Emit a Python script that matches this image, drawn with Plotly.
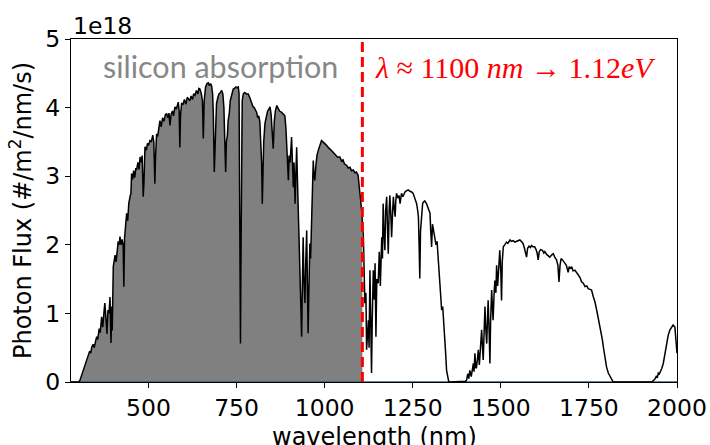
import numpy as np
import plotly.graph_objects as go

# Solar photon flux (AM1.5-like), units of 1e18 photons / m^2 / nm / s
wavelength_nm = [
    280, 300, 305, 312, 320, 329, 333, 336, 339, 343, 346, 350, 353, 356, 360, 363, 367, 370, 373, 376,
    379, 382, 385, 388, 390.7, 393.5, 396, 397, 400, 403, 405, 408, 411, 414, 417, 419, 422, 425, 428, 430,
    432, 435, 438, 441, 444, 447.5, 450, 452, 455, 458, 461, 464, 466, 470, 473, 476, 479, 482, 485, 487,
    490, 494, 497, 500, 504, 508, 512, 515, 518, 520, 523, 526, 529, 532.5, 536, 540, 544, 548, 551.5, 555,
    558, 561, 564, 568, 571, 575, 579, 584.5, 587, 589, 591, 594, 598, 602, 606, 610, 613, 617, 621, 625,
    628, 632, 636, 640, 643, 646, 650, 653, 655.5, 658, 662, 666, 669.6, 673, 676, 679, 682, 684, 686.7, 689,
    693, 697, 700, 704, 707.6, 711, 714, 716, 719, 721, 724, 726, 729, 732, 736, 740.6, 744, 748, 751, 754.8,
    757, 759, 761, 762, 763, 764, 766, 769, 773, 778, 783, 787, 790, 794, 797, 800, 804, 807, 810, 813,
    816, 819, 821, 823, 825, 827, 830.5, 834, 838, 842, 845, 848, 851, 854, 857, 860, 864, 868, 872, 878,
    882, 887, 890, 893, 895, 897, 899, 902, 906, 908, 911, 913, 916, 918, 920.5, 923, 925, 928, 930, 932,
    934.6, 936, 937, 939, 941, 944, 946, 949, 951, 953, 955, 958, 960, 963, 965, 967.6, 970, 972, 975, 978,
    982, 986, 991, 995, 1000, 1005.5, 1010, 1015, 1020, 1024, 1030, 1036, 1043, 1048, 1052, 1056, 1062, 1067, 1072, 1076,
    1081, 1086, 1090, 1095, 1098, 1100, 1103, 1105, 1108, 1110, 1114, 1117, 1119, 1122, 1124, 1126, 1128.5, 1131, 1133, 1135,
    1138, 1141, 1143, 1145.5, 1148, 1152, 1155, 1158, 1162, 1164, 1166, 1168, 1171, 1173, 1176, 1178, 1180.5, 1183, 1185, 1188,
    1190, 1193, 1195, 1198, 1200, 1202, 1204, 1208, 1211, 1214, 1218, 1222, 1228, 1233, 1237, 1242, 1247, 1251, 1256, 1261,
    1264, 1266, 1268, 1270, 1272, 1275, 1278, 1280, 1284, 1289, 1293, 1296, 1299, 1301, 1303.5, 1306, 1310, 1313, 1316, 1319,
    1322, 1325, 1327, 1330, 1332, 1335, 1338, 1341, 1343, 1346, 1349, 1352, 1355, 1395, 1400, 1403, 1406, 1409, 1412, 1416,
    1419, 1422, 1424, 1426.5, 1429, 1431, 1434, 1436, 1439, 1442, 1445.5, 1448, 1450, 1453, 1455, 1457, 1460, 1462, 1464, 1467,
    1469, 1471, 1474, 1476, 1478, 1481, 1483, 1486, 1488, 1491, 1493, 1495, 1497, 1500, 1502, 1504, 1507, 1511, 1516, 1520,
    1526, 1530, 1535, 1540, 1545, 1550, 1554, 1558, 1563, 1567, 1570, 1573, 1576, 1580, 1584, 1587, 1591, 1596, 1600, 1603,
    1606, 1609, 1613, 1618, 1622, 1625, 1630, 1635, 1639, 1644, 1649, 1653, 1656, 1658, 1662, 1665, 1668, 1671, 1675, 1679,
    1682, 1686, 1689, 1691, 1694, 1698, 1701, 1705, 1710, 1715, 1720, 1725, 1729, 1734, 1739, 1744, 1748, 1753, 1757.5, 1762,
    1767, 1772, 1776, 1781, 1784, 1786, 1788, 1791, 1795, 1800, 1805, 1809.5, 1814, 1819, 1930, 1932, 1937, 1941, 1944, 1947,
    1950, 1954, 1957, 1961, 1965, 1970, 1975, 1980, 1985, 1989, 1994, 1997, 1998.5, 2000,
]
flux_e18 = [
    0, 0, 0.02, 0.12, 0.25, 0.39, 0.45, 0.42, 0.51, 0.55, 0.50, 0.60, 0.66, 0.62, 0.78, 0.72, 0.95, 0.80, 1.05, 1.15,
    0.95, 0.70, 1.05, 1.00, 1.24, 0.57, 1.10, 0.75, 1.68, 1.82, 1.85, 1.75, 1.95, 2.05, 2.00, 2.12, 2.00, 2.08, 2.00, 1.39,
    2.10, 2.30, 2.46, 2.35, 2.60, 2.70, 2.75, 3.04, 2.95, 3.08, 2.98, 3.12, 3.09, 3.20, 3.10, 3.28, 3.20, 3.30, 2.70, 2.90,
    3.43, 3.38, 3.48, 3.45, 3.52, 3.50, 3.60, 3.50, 2.89, 3.30, 3.62, 3.58, 3.72, 3.81, 3.72, 3.85, 3.80, 3.90, 3.91, 3.85,
    3.92, 3.74, 3.90, 3.95, 3.88, 4.01, 3.98, 4.08, 3.95, 3.42, 3.90, 4.06, 4.05, 4.12, 4.05, 4.15, 4.13, 4.10, 4.17, 4.12,
    4.20, 4.18, 4.25, 4.20, 4.28, 4.27, 4.20, 4.10, 3.55, 4.10, 4.30, 4.35, 4.36, 4.32, 4.35, 4.32, 4.20, 3.90, 3.06, 3.60,
    4.06, 4.15, 4.20, 4.22, 4.25, 4.20, 4.00, 3.60, 3.06, 3.50, 3.60, 3.81, 3.90, 4.10, 4.20, 4.27, 4.28, 4.30, 4.29, 4.30,
    4.20, 3.00, 0.56, 1.50, 2.50, 3.60, 4.10, 4.20, 4.22, 4.20, 4.20, 4.15, 4.10, 4.05, 4.01, 4.00, 3.97, 3.93, 3.85, 3.88,
    3.79, 3.50, 3.20, 2.60, 3.00, 3.50, 3.77, 3.85, 3.95, 3.98, 4.01, 3.90, 3.70, 3.40, 3.80, 3.95, 4.03, 3.98, 3.95, 3.93,
    3.90, 3.88, 3.70, 3.40, 3.10, 2.94, 3.30, 3.20, 3.57, 3.10, 2.84, 3.20, 2.60, 3.00, 3.42, 2.90, 2.50, 2.10, 1.68, 1.00,
    0.66, 1.20, 1.90, 2.11, 1.50, 1.15, 1.70, 2.21, 1.40, 0.71, 1.30, 2.02, 1.80, 2.46, 2.90, 3.23, 3.00, 2.94, 3.15, 3.30,
    3.38, 3.45, 3.52, 3.50, 3.48, 3.45, 3.42, 3.40, 3.37, 3.35, 3.32, 3.28, 3.28, 3.22, 3.24, 3.18, 3.16, 3.12, 3.13, 3.08,
    3.09, 3.05, 3.06, 3.01, 2.85, 2.70, 2.60, 2.50, 2.30, 2.10, 1.15, 1.30, 0.47, 0.80, 0.90, 0.50, 1.63, 0.80, 0.13, 0.90,
    1.63, 1.20, 1.73, 0.66, 1.50, 1.44, 1.90, 1.40, 2.11, 1.80, 2.60, 2.20, 1.92, 2.50, 2.70, 2.30, 1.87, 2.50, 2.72, 2.40,
    2.11, 2.50, 2.70, 2.50, 2.41, 2.65, 2.75, 2.68, 2.72, 2.60, 2.75, 2.70, 2.77, 2.79, 2.80, 2.78, 2.77, 2.75, 2.68, 2.60,
    2.50, 2.41, 2.00, 1.51, 2.20, 2.50, 2.60, 2.62, 2.64, 2.60, 2.55, 2.50, 2.46, 2.20, 1.97, 2.30, 2.20, 2.11, 2.00, 2.05,
    1.82, 1.60, 1.44, 1.20, 1.05, 1.10, 0.90, 0.66, 0.45, 0.17, 0.06, 0.01, 0, 0, 0.01, 0.03, 0.12, 0.05, 0.17, 0.08,
    0.20, 0.27, 0.15, 0.42, 0.20, 0.22, 0.35, 0.47, 0.25, 0.50, 0.76, 0.50, 0.32, 0.80, 1.10, 0.80, 0.56, 0.90, 1.19, 0.70,
    0.27, 0.90, 1.34, 1.10, 0.90, 1.30, 1.48, 1.30, 1.70, 1.40, 1.53, 1.80, 1.92, 1.60, 1.19, 1.75, 1.97, 2.00, 2.04, 2.02,
    2.07, 2.05, 2.06, 2.04, 2.05, 2.06, 2.07, 2.05, 2.02, 1.95, 1.90, 1.82, 1.95, 1.98, 1.96, 1.99, 1.97, 1.97, 1.93, 1.88,
    1.78, 1.90, 1.93, 1.92, 1.88, 1.90, 1.86, 1.84, 1.82, 1.85, 1.87, 1.82, 1.80, 1.78, 1.70, 1.46, 1.70, 1.80, 1.78, 1.74,
    1.73, 1.70, 1.62, 1.60, 1.68, 1.66, 1.68, 1.62, 1.63, 1.60, 1.56, 1.52, 1.46, 1.44, 1.39, 1.40, 1.36, 1.35, 1.34, 1.25,
    1.17, 1.05, 0.95, 0.80, 0.75, 0.66, 0.62, 0.51, 0.37, 0.22, 0.13, 0.08, 0.03, 0.00, 0.00, 0.02, 0.04, 0.08, 0.06, 0.13,
    0.12, 0.16, 0.20, 0.27, 0.40, 0.56, 0.68, 0.76, 0.81, 0.83, 0.80, 0.65, 0.51, 0.42,
]

bandgap_ev = 1.12
x_ticks = [500, 750, 1000, 1250, 1500, 1750, 2000]
y_ticks = [0, 1, 2, 3, 4, 5]

wl = np.array(wavelength_nm, dtype=float)
fl = np.array(flux_e18, dtype=float)
cutoff_nm = 1239.84 / bandgap_ev

# part of the spectrum silicon can absorb (photon energy above the band gap)
mask = wl < cutoff_nm
fill_x = np.append(wl[mask], cutoff_nm)
fill_y = np.append(fl[mask], np.interp(cutoff_nm, wl, fl))

font_main = "DejaVu Sans"
tick_size = 23.5
label_size = 24

fig = go.Figure()
fig.add_trace(go.Scatter(
    x=fill_x, y=fill_y, mode="none", fill="tozeroy",
    fillcolor="#808080", hoverinfo="skip", showlegend=False,
))
fig.add_trace(go.Scatter(
    x=[wl[0], wl[-1]], y=[0, 0], mode="lines",
    line=dict(color="#2f5b7c", width=1.6), showlegend=False,
))
fig.add_trace(go.Scatter(
    x=wl, y=fl, mode="lines",
    line=dict(color="black", width=1.5), showlegend=False,
))

fig.add_shape(
    type="line", xref="x", yref="y",
    x0=cutoff_nm, x1=cutoff_nm, y0=0, y1=5,
    line=dict(color="red", width=3, dash="10px,5px"),
)

fig.add_annotation(
    xref="paper", yref="paper", x=0.246, y=0.92, xanchor="center", yanchor="middle",
    text="silicon absorption", showarrow=False,
    font=dict(family="Lato", size=30.5, color="#878787"),
)
fig.add_annotation(
    xref="paper", yref="paper", x=0.734, y=0.918, xanchor="center", yanchor="middle",
    text="<i>λ</i> ≈ 1100 <i>nm</i> → 1.12<i>eV</i>", showarrow=False,
    font=dict(family="Liberation Serif", size=30, color="red"),
)
fig.add_annotation(
    xref="paper", yref="paper", x=0, y=1, xanchor="left", yanchor="bottom",
    text="1e18", showarrow=False, yshift=-3,
    font=dict(family=font_main, size=tick_size, color="black"),
)
# x-axis title, sitting low so its descenders run off the page edge
fig.add_annotation(
    xref="paper", yref="paper", x=0.5, y=0, xanchor="center", yanchor="top",
    text="wavelength (nm)", showarrow=False, yshift=-39,
    font=dict(family=font_main, size=label_size, color="black"),
)

axis_common = dict(
    showline=True, mirror=True, linecolor="black", linewidth=1.3,
    ticks="outside", ticklen=5, tickwidth=1.3, tickcolor="black",
    showgrid=False, zeroline=False, automargin=False,
    tickfont=dict(family=font_main, size=tick_size, color="black"),
)
fig.update_xaxes(
    range=[280, 2000], tickvals=x_ticks, ticktext=[str(v) for v in x_ticks],
    **axis_common,
)
fig.update_yaxes(
    range=[0, 5], tickvals=y_ticks, ticktext=[str(v) for v in y_ticks],
    title=dict(text="Photon Flux (#/m<sup>2</sup>/nm/s)", standoff=6,
               font=dict(family=font_main, size=label_size, color="black")),
    **axis_common,
)
fig.update_layout(
    width=710, height=445,
    margin=dict(l=71, r=33, t=39, b=63),
    paper_bgcolor="white", plot_bgcolor="white",
)
fig.write_html("out.html")
